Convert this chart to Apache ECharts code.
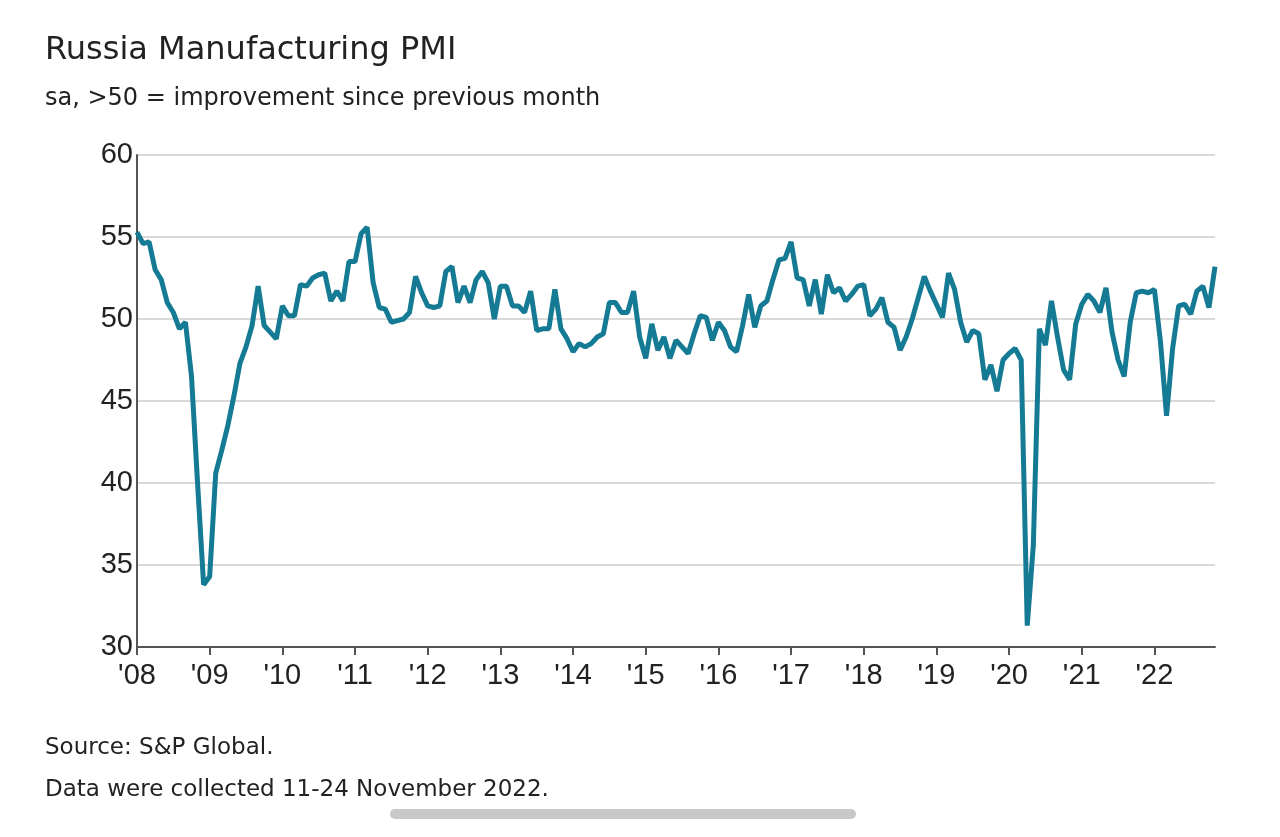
<!DOCTYPE html>
<html><head><meta charset="utf-8">
<script src="https://cdn.jsdelivr.net/npm/echarts@6/dist/echarts.min.js"></script>
<style>html,body{margin:0;background:#fff}#c{width:1280px;height:837px}</style>
</head><body><div id="c"></div>
<script>
var years = ['08','09','10','11','12','13','14','15','16','17','18','19','20','21','22'];
var pmi2008 = [55.3,54.6,54.7,53.0,52.4,51.0,50.4,49.4,49.8,46.5,40.0,33.8];
var pmi2009 = [34.3,40.6,42.0,43.5,45.3,47.3,48.3,49.6,52.0,49.6,49.2,48.8];
var pmi2010 = [50.8,50.2,50.2,52.1,52.0,52.5,52.7,52.8,51.1,51.7,51.1,53.5];
var pmi2011 = [53.5,55.2,55.6,52.2,50.7,50.6,49.8,49.9,50.0,50.4,52.6,51.6];
var pmi2012 = [50.8,50.7,50.8,52.9,53.2,51.0,52.0,51.0,52.4,52.9,52.2,50.0];
var pmi2013 = [52.0,52.0,50.8,50.8,50.4,51.7,49.3,49.4,49.4,51.8,49.4,48.8];
var pmi2014 = [48.0,48.5,48.3,48.5,48.9,49.1,51.0,51.0,50.4,50.4,51.7,48.9];
var pmi2015 = [47.6,49.7,48.1,48.9,47.6,48.7,48.3,47.9,49.1,50.2,50.1,48.7];
var pmi2016 = [49.8,49.3,48.3,48.0,49.6,51.5,49.5,50.8,51.1,52.4,53.6,53.7];
var pmi2017 = [54.7,52.5,52.4,50.8,52.4,50.3,52.7,51.6,51.9,51.1,51.5,52.0];
var pmi2018 = [52.1,50.2,50.6,51.3,49.8,49.5,48.1,48.9,50.0,51.3,52.6,51.7];
var pmi2019 = [50.9,50.1,52.8,51.8,49.8,48.6,49.3,49.1,46.3,47.2,45.6,47.5];
var pmi2020 = [47.9,48.2,47.5,31.3,36.2,49.4,48.4,51.1,48.9,46.9,46.3,49.7];
var pmi2021 = [50.9,51.5,51.1,50.4,51.9,49.2,47.5,46.5,49.8,51.6,51.7,51.6];
var pmi2022 = [51.8,48.6,44.1,48.2,50.8,50.9,50.3,51.7,52.0,50.7,53.2];

var values = [].concat(pmi2008,pmi2009,pmi2010,pmi2011,pmi2012,pmi2013,pmi2014,pmi2015,
    pmi2016,pmi2017,pmi2018,pmi2019,pmi2020,pmi2021,pmi2022);
var months = [];
for (var i = 0; i < values.length; i++) {
    months.push("'" + years[Math.floor(i / 12)] + '-' + (i % 12 + 1));
}

var chart = echarts.init(document.getElementById('c'));
chart.setOption({
    backgroundColor: '#fff',
    animation: false,
    textStyle: {fontFamily: 'DejaVu Sans'},
    title: [{
        text: 'Russia Manufacturing PMI', left: 40, top: 30,
        textStyle: {fontSize: 32, fontWeight: 'normal', color: '#222'}
    }, {
        text: 'sa, >50 = improvement since previous month', left: 40, top: 82,
        textStyle: {fontSize: 24, fontWeight: 'normal', color: '#222'}
    }, {
        text: 'Source: S&P Global.', left: 40, top: 732,
        textStyle: {fontSize: 23, fontWeight: 'normal', color: '#222'}
    }, {
        text: 'Data were collected 11-24 November 2022.', left: 40, top: 774,
        textStyle: {fontSize: 23, fontWeight: 'normal', color: '#222'}
    }],
    graphic: [{
        type: 'rect', shape: {x: 390, y: 809, width: 466, height: 10, r: 5},
        style: {fill: '#c8c8c8'}
    }],
    grid: {left: 137, right: 65, top: 155, bottom: 190},
    xAxis: {
        type: 'category', data: months, boundaryGap: false,
        axisLine: {lineStyle: {color: '#555', width: 2}},
        axisTick: {show: true, length: 8, lineStyle: {color: '#555', width: 2},
            interval: function (i) { return i % 12 === 0; }},
        axisLabel: {
            fontFamily: 'Liberation Sans', fontSize: 29, color: '#222', margin: 14,
            interval: function (i) { return i % 12 === 0; },
            formatter: function (v) { return v.split('-')[0]; }
        },
        splitLine: {show: false}
    },
    yAxis: {
        type: 'value', min: 30, max: 60, interval: 5,
        axisLine: {show: true, lineStyle: {color: '#555', width: 2}},
        axisTick: {show: false},
        axisLabel: {fontFamily: 'Liberation Sans', fontSize: 29, color: '#222', margin: 4},
        splitLine: {lineStyle: {color: '#d9d9d9', width: 2}}
    },
    series: [{
        type: 'line', data: values, showSymbol: false,
        lineStyle: {color: '#157a93', width: 5},
        z: 5
    }]
});
</script>
</body></html>
